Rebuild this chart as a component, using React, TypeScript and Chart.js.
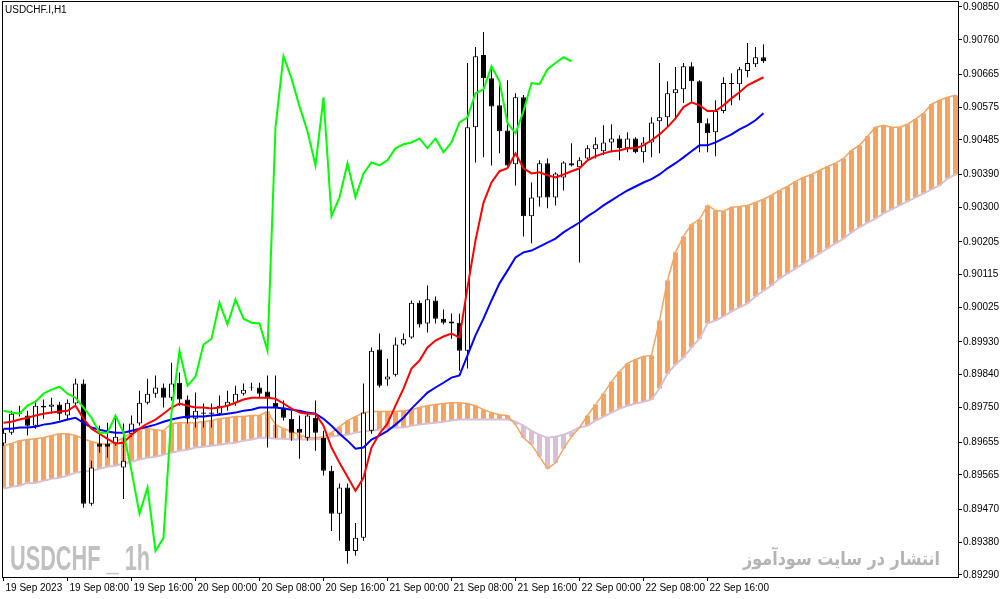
import React, { useEffect, useRef } from "react";
import { Chart, registerables } from "chart.js";

Chart.register(...registerables);

// ---- axis labels ----
const xTickIndex = [0, 8, 16, 24, 32, 40, 48, 56, 64, 72, 80, 88];
const xTickLabels = [
  "19 Sep 2023", "19 Sep 08:00", "19 Sep 16:00", "20 Sep 00:00", "20 Sep 08:00", "20 Sep 16:00",
  "21 Sep 00:00", "21 Sep 08:00", "21 Sep 16:00", "22 Sep 00:00", "22 Sep 08:00", "22 Sep 16:00",
];
const yTickLabels = [
  "0.90850", "0.90760", "0.90665", "0.90575", "0.90485", "0.90390", "0.90300", "0.90205", "0.90115",
  "0.90025", "0.89930", "0.89840", "0.89750", "0.89655", "0.89565", "0.89470", "0.89380", "0.89290",
];

// ---- candles (H1) ----
const candleOpen = [
  0.89651, 0.89681, 0.89733, 0.89728, 0.89700, 0.89750, 0.89752, 0.89758, 0.89728, 0.89761,
  0.89816, 0.89486, 0.89651, 0.89651, 0.89651, 0.89585, 0.89678, 0.89706, 0.89763, 0.89788,
  0.89805, 0.89777, 0.89818, 0.89772, 0.89719, 0.89733, 0.89736, 0.89733, 0.89755, 0.89763,
  0.89788, 0.89805, 0.89805, 0.89794, 0.89763, 0.89750, 0.89719, 0.89692, 0.89667, 0.89722,
  0.89667, 0.89576, 0.89458, 0.89530, 0.89356, 0.89392, 0.89686, 0.89909, 0.89827, 0.89840,
  0.89923, 0.89942, 0.90038, 0.89981, 0.90044, 0.89994, 0.89986, 0.89983, 0.89906, 0.90520,
  0.90718, 0.90654, 0.90580, 0.90511, 0.90418, 0.90602, 0.90275, 0.90327, 0.90421, 0.90327,
  0.90382, 0.90421, 0.90410, 0.90434, 0.90459, 0.90454, 0.90478, 0.90489, 0.90462, 0.90489,
  0.90451, 0.90478, 0.90536, 0.90547, 0.90613, 0.90624, 0.90687, 0.90646, 0.90531, 0.90506,
  0.90564, 0.90641, 0.90638, 0.90674, 0.90693, 0.90712,
];
const candleHigh = [
  0.89692, 0.89741, 0.89755, 0.89741, 0.89769, 0.89772, 0.89777, 0.89766, 0.89772, 0.89829,
  0.89827, 0.89604, 0.89700, 0.89708, 0.89722, 0.89706, 0.89728, 0.89796, 0.89829, 0.89838,
  0.89816, 0.89873, 0.89846, 0.89783, 0.89791, 0.89761, 0.89761, 0.89783, 0.89796, 0.89810,
  0.89816, 0.89818, 0.89818, 0.89838, 0.89838, 0.89769, 0.89741, 0.89728, 0.89733, 0.89769,
  0.89686, 0.89590, 0.89541, 0.89541, 0.89433, 0.89816, 0.89915, 0.89953, 0.89884, 0.89942,
  0.89953, 0.90044, 0.90044, 0.90085, 0.90055, 0.90019, 0.90008, 0.90008, 0.90696, 0.90740,
  0.90781, 0.90685, 0.90635, 0.90649, 0.90613, 0.90608, 0.90368, 0.90429, 0.90434, 0.90396,
  0.90426, 0.90476, 0.90437, 0.90470, 0.90492, 0.90525, 0.90528, 0.90498, 0.90506, 0.90492,
  0.90492, 0.90547, 0.90696, 0.90646, 0.90685, 0.90696, 0.90698, 0.90649, 0.90544, 0.90594,
  0.90657, 0.90668, 0.90685, 0.90751, 0.90740, 0.90748,
];
const candleLow = [
  0.89645, 0.89675, 0.89725, 0.89673, 0.89692, 0.89719, 0.89733, 0.89714, 0.89714, 0.89755,
  0.89475, 0.89480, 0.89626, 0.89612, 0.89645, 0.89499, 0.89670, 0.89700, 0.89758, 0.89777,
  0.89750, 0.89769, 0.89755, 0.89706, 0.89695, 0.89695, 0.89695, 0.89728, 0.89741, 0.89755,
  0.89783, 0.89796, 0.89777, 0.89640, 0.89667, 0.89714, 0.89659, 0.89609, 0.89659, 0.89631,
  0.89563, 0.89411, 0.89384, 0.89321, 0.89343, 0.89384, 0.89678, 0.89805, 0.89810, 0.89835,
  0.89920, 0.89939, 0.89970, 0.89956, 0.89981, 0.89978, 0.89939, 0.89851, 0.89857, 0.90423,
  0.90437, 0.90415, 0.90448, 0.90412, 0.90360, 0.90220, 0.90201, 0.90302, 0.90297, 0.90305,
  0.90346, 0.90412, 0.90148, 0.90429, 0.90434, 0.90443, 0.90451, 0.90429, 0.90451, 0.90448,
  0.90423, 0.90437, 0.90448, 0.90520, 0.90547, 0.90586, 0.90588, 0.90451, 0.90451, 0.90440,
  0.90558, 0.90580, 0.90594, 0.90657, 0.90685, 0.90696,
];
const candleClose = [
  0.89681, 0.89733, 0.89736, 0.89700, 0.89755, 0.89755, 0.89758, 0.89733, 0.89763, 0.89816,
  0.89486, 0.89585, 0.89642, 0.89642, 0.89670, 0.89604, 0.89706, 0.89763, 0.89788, 0.89805,
  0.89777, 0.89816, 0.89772, 0.89719, 0.89741, 0.89736, 0.89733, 0.89755, 0.89766, 0.89788,
  0.89799, 0.89807, 0.89788, 0.89777, 0.89750, 0.89722, 0.89681, 0.89681, 0.89728, 0.89681,
  0.89576, 0.89458, 0.89530, 0.89356, 0.89392, 0.89736, 0.89906, 0.89810, 0.89835, 0.89923,
  0.89939, 0.90038, 0.89978, 0.90047, 0.89994, 0.89983, 0.89981, 0.89906, 0.90520, 0.90715,
  0.90654, 0.90577, 0.90509, 0.90415, 0.90602, 0.90275, 0.90327, 0.90421, 0.90327, 0.90393,
  0.90423, 0.90415, 0.90429, 0.90462, 0.90473, 0.90478, 0.90489, 0.90462, 0.90489, 0.90451,
  0.90478, 0.90533, 0.90547, 0.90613, 0.90624, 0.90687, 0.90646, 0.90531, 0.90503, 0.90564,
  0.90641, 0.90638, 0.90679, 0.90696, 0.90712, 0.90701,
];

// ---- Ichimoku lines ----
const tenkan = [
  0.89708, 0.89711, 0.89717, 0.89722, 0.89728, 0.89733, 0.89736, 0.89739, 0.89741, 0.89755,
  0.89719, 0.89692, 0.89678, 0.89664, 0.89651, 0.89653, 0.89675, 0.89692, 0.89706, 0.89717,
  0.89733, 0.89750, 0.89761, 0.89755, 0.89750, 0.89750, 0.89747, 0.89750, 0.89755, 0.89763,
  0.89772, 0.89777, 0.89777, 0.89777, 0.89774, 0.89761, 0.89747, 0.89736, 0.89733, 0.89733,
  0.89700, 0.89640, 0.89598, 0.89560, 0.89521, 0.89557, 0.89640, 0.89678, 0.89706, 0.89755,
  0.89802, 0.89857, 0.89879, 0.89915, 0.89934, 0.89945, 0.89953, 0.89942, 0.90080, 0.90209,
  0.90313, 0.90368, 0.90399, 0.90407, 0.90448, 0.90407, 0.90393, 0.90396, 0.90388, 0.90382,
  0.90390, 0.90399, 0.90407, 0.90429, 0.90440, 0.90448, 0.90454, 0.90456, 0.90462, 0.90462,
  0.90470, 0.90484, 0.90500, 0.90520, 0.90544, 0.90575, 0.90588, 0.90580, 0.90564, 0.90564,
  0.90580, 0.90599, 0.90616, 0.90635, 0.90646, 0.90657,
];
const kijun = [
  0.89692, 0.89692, 0.89695, 0.89695, 0.89697, 0.89703, 0.89706, 0.89711, 0.89717, 0.89722,
  0.89708, 0.89695, 0.89689, 0.89684, 0.89681, 0.89681, 0.89686, 0.89692, 0.89697, 0.89703,
  0.89711, 0.89717, 0.89722, 0.89725, 0.89725, 0.89725, 0.89728, 0.89730, 0.89733, 0.89736,
  0.89741, 0.89744, 0.89750, 0.89750, 0.89750, 0.89747, 0.89744, 0.89741, 0.89736, 0.89733,
  0.89719, 0.89700, 0.89678, 0.89659, 0.89637, 0.89640, 0.89662, 0.89673, 0.89686, 0.89703,
  0.89722, 0.89747, 0.89769, 0.89791, 0.89805, 0.89818, 0.89832, 0.89838, 0.89893, 0.89948,
  0.89994, 0.90044, 0.90091, 0.90126, 0.90162, 0.90176, 0.90181, 0.90192, 0.90203, 0.90214,
  0.90231, 0.90245, 0.90258, 0.90275, 0.90289, 0.90305, 0.90319, 0.90333, 0.90346, 0.90357,
  0.90368, 0.90377, 0.90390, 0.90407, 0.90421, 0.90437, 0.90454, 0.90470, 0.90470, 0.90478,
  0.90489, 0.90500, 0.90514, 0.90525, 0.90539, 0.90558,
];
const chikou = [
  0.89741, 0.89736, 0.89733, 0.89755, 0.89766, 0.89788, 0.89799, 0.89807, 0.89788, 0.89777,
  0.89750, 0.89722, 0.89681, 0.89681, 0.89728, 0.89681, 0.89576, 0.89458, 0.89530, 0.89356,
  0.89392, 0.89736, 0.89906, 0.89810, 0.89835, 0.89923, 0.89939, 0.90038, 0.89978, 0.90047,
  0.89994, 0.89983, 0.89981, 0.89906, 0.90520, 0.90715, 0.90654, 0.90577, 0.90509, 0.90415,
  0.90602, 0.90275, 0.90327, 0.90421, 0.90327, 0.90393, 0.90423, 0.90415, 0.90429, 0.90462,
  0.90473, 0.90478, 0.90489, 0.90462, 0.90489, 0.90451, 0.90478, 0.90533, 0.90547, 0.90613,
  0.90624, 0.90687, 0.90646, 0.90531, 0.90503, 0.90564, 0.90641, 0.90638, 0.90679, 0.90696,
  0.90712, 0.90701,
];
const senkouA = [
  0.89645, 0.89651, 0.89659, 0.89662, 0.89664, 0.89667, 0.89673, 0.89678, 0.89678, 0.89673,
  0.89664, 0.89656, 0.89651, 0.89648, 0.89656, 0.89667, 0.89681, 0.89692, 0.89692, 0.89689,
  0.89686, 0.89706, 0.89708, 0.89708, 0.89708, 0.89711, 0.89714, 0.89719, 0.89722, 0.89725,
  0.89725, 0.89728, 0.89728, 0.89739, 0.89703, 0.89692, 0.89684, 0.89675, 0.89667, 0.89667,
  0.89670, 0.89681, 0.89697, 0.89714, 0.89725, 0.89736, 0.89739, 0.89739, 0.89739, 0.89739,
  0.89741, 0.89744, 0.89750, 0.89755, 0.89758, 0.89761, 0.89763, 0.89763, 0.89761, 0.89755,
  0.89744, 0.89736, 0.89730, 0.89728, 0.89703, 0.89667, 0.89648, 0.89615, 0.89582, 0.89598,
  0.89637, 0.89670, 0.89695, 0.89728, 0.89758, 0.89788, 0.89821, 0.89849, 0.89871, 0.89882,
  0.89890, 0.89893, 0.89989, 0.90099, 0.90176, 0.90220, 0.90253, 0.90267, 0.90305, 0.90291,
  0.90289, 0.90300, 0.90302, 0.90305, 0.90313, 0.90322, 0.90333, 0.90346, 0.90357, 0.90371,
  0.90382, 0.90390, 0.90401, 0.90412, 0.90421, 0.90434, 0.90456, 0.90470, 0.90495, 0.90520,
  0.90525, 0.90520, 0.90520, 0.90528, 0.90542, 0.90558, 0.90583, 0.90594, 0.90602, 0.90608,
];
const senkouB = [
  0.89527, 0.89532, 0.89535, 0.89543, 0.89543, 0.89549, 0.89554, 0.89557, 0.89563, 0.89571,
  0.89574, 0.89576, 0.89582, 0.89587, 0.89590, 0.89596, 0.89601, 0.89607, 0.89612, 0.89615,
  0.89620, 0.89626, 0.89631, 0.89634, 0.89640, 0.89642, 0.89645, 0.89648, 0.89651, 0.89653,
  0.89659, 0.89662, 0.89667, 0.89667, 0.89664, 0.89664, 0.89662, 0.89662, 0.89662, 0.89662,
  0.89664, 0.89670, 0.89673, 0.89675, 0.89681, 0.89684, 0.89686, 0.89689, 0.89692, 0.89695,
  0.89695, 0.89700, 0.89703, 0.89706, 0.89708, 0.89711, 0.89714, 0.89717, 0.89717, 0.89717,
  0.89717, 0.89717, 0.89717, 0.89717, 0.89711, 0.89700, 0.89686, 0.89675, 0.89667, 0.89670,
  0.89675, 0.89684, 0.89695, 0.89700, 0.89714, 0.89725, 0.89736, 0.89747, 0.89755, 0.89761,
  0.89766, 0.89772, 0.89802, 0.89843, 0.89868, 0.89887, 0.89915, 0.89939, 0.89981, 0.89989,
  0.90000, 0.90014, 0.90025, 0.90036, 0.90055, 0.90071, 0.90085, 0.90104, 0.90118, 0.90132,
  0.90146, 0.90159, 0.90173, 0.90187, 0.90201, 0.90214, 0.90231, 0.90245, 0.90258, 0.90269,
  0.90283, 0.90294, 0.90305, 0.90316, 0.90327, 0.90338, 0.90349, 0.90360, 0.90379, 0.90390,
];

const AXIS_FONT = { family: '"Liberation Sans", Arial, sans-serif', size: 10 };

export default function App() {
  const ref = useRef<HTMLCanvasElement>(null);

  useEffect(() => {
    document.body.style.margin = "0";
    const canvas = ref.current;
    if (!canvas) return;

    const pts = (arr: number[]) => arr.map((v, i) => ({ x: i, y: v }));
    const wicks = candleLow.map((l, i) => ({ x: i, y: [l, candleHigh[i]] }));
    const bodies = candleOpen.map((o, i) => ({ x: i, y: [o, candleClose[i]] }));
    const bodyColors = candleOpen.map((o, i) => (candleClose[i] >= o ? "#FFFFFF" : "#000000"));
    const cloud = senkouA.map((a, i) => ({ x: i, y: [Math.min(a, senkouB[i]), Math.max(a, senkouB[i])] }));
    const cloudColors = senkouA.map((a, i) => (a >= senkouB[i] ? "#F4A460" : "#D8BFD8"));

    const decor = {
      id: "decor",
      beforeDatasetsDraw(chart: any) {
        const ctx = chart.ctx as CanvasRenderingContext2D;
        ctx.save();
        ctx.fillStyle = "#C0C0C0";
        ctx.font = 'bold 35px "Liberation Sans", Arial, sans-serif';
        ctx.textBaseline = "alphabetic";
        const t = "USDCHF _ 1h";
        const w = ctx.measureText(t).width;
        ctx.translate(10, 570);
        ctx.scale(140 / w, 1);
        ctx.fillText(t, 0, 0);
        ctx.restore();

        ctx.save();
        ctx.fillStyle = "#B4B4B4";
        ctx.font = 'bold 19px "DejaVu Sans", sans-serif';
        ctx.textBaseline = "alphabetic";
        const fa = "انتشار در سایت سودآموز";
        const wf = ctx.measureText(fa).width;
        ctx.translate(743, 565);
        ctx.scale(197 / wf, 1);
        ctx.fillText(fa, 0, 0);
        ctx.restore();
      },
      afterDraw(chart: any) {
        const ctx = chart.ctx as CanvasRenderingContext2D;
        const a = chart.chartArea;
        ctx.save();
        ctx.strokeStyle = "#000000";
        ctx.lineWidth = 1;
        ctx.strokeRect(Math.round(a.left) - 0.5, Math.round(a.top) - 0.5, Math.round(a.right - a.left) + 1, Math.round(a.bottom - a.top) + 1);
        ctx.fillStyle = "#000000";
        ctx.font = '10px "Liberation Sans", Arial, sans-serif';
        ctx.textBaseline = "top";
        ctx.fillText("USDCHF.I,H1", 5, 5);
        ctx.restore();
      },
    };

    const xMin = -0.0625;
    const xMax = xMin + 955 / 8;

    const chart = new Chart(canvas, {
      type: "bar",
      data: {
        datasets: [
          { type: "line", label: "Chikou", data: pts(chikou), borderColor: "#00FF00", borderWidth: 2, pointRadius: 0, tension: 0, order: 0 } as any,
          { type: "line", label: "Tenkan", data: pts(tenkan), borderColor: "#FF0000", borderWidth: 2, pointRadius: 0, tension: 0, order: 1 } as any,
          { type: "line", label: "Kijun", data: pts(kijun), borderColor: "#0000FF", borderWidth: 2, pointRadius: 0, tension: 0, order: 2 } as any,
          {
            type: "bar", label: "Body", data: bodies, backgroundColor: bodyColors, borderColor: "#000000",
            borderWidth: 1, borderSkipped: false, barThickness: 5, grouped: false, inflateAmount: 0, order: 3,
          } as any,
          {
            type: "bar", label: "Wick", data: wicks, backgroundColor: "#000000", borderWidth: 0,
            barThickness: 1, grouped: false, inflateAmount: 0, order: 4,
          } as any,
          { type: "line", label: "Senkou A", data: pts(senkouA), borderColor: "#F4A460", borderWidth: 1.5, pointRadius: 0, tension: 0, order: 5 } as any,
          { type: "line", label: "Senkou B", data: pts(senkouB), borderColor: "#D8BFD8", borderWidth: 2, pointRadius: 0, tension: 0, order: 6 } as any,
          {
            type: "bar", label: "Cloud", data: cloud, backgroundColor: cloudColors, borderWidth: 0,
            barThickness: 5, grouped: false, inflateAmount: 0, order: 7,
          } as any,
        ],
      },
      options: {
        responsive: false,
        animation: false,
        devicePixelRatio: 1,
        events: [],
        layout: { padding: { left: 3, top: 2, right: 0, bottom: 0 } },
        plugins: { legend: { display: false }, tooltip: { enabled: false }, title: { display: false } },
        scales: {
          x: {
            type: "linear",
            position: "bottom",
            min: xMin,
            max: xMax,
            bounds: "data",
            offset: false,
            grid: { display: true, drawOnChartArea: false, drawTicks: true, tickLength: 4, color: "#000000", offset: false },
            border: { display: true, color: "#000000", width: 1 },
            ticks: {
              autoSkip: false,
              maxRotation: 0,
              minRotation: 0,
              color: "#000000",
              font: AXIS_FONT,
              padding: 1,
              labelOffset: 2,
              align: "start",
              callback: (v: any) => {
                const k = xTickIndex.indexOf(Number(v));
                return k >= 0 ? xTickLabels[k] : null;
              },
            },
            afterBuildTicks: (s: any) => {
              s.ticks = xTickIndex.map((v) => ({ value: v }));
            },
            afterFit: (s: any) => {
              s.height = 22;
              s.paddingLeft = 0;
              s.paddingRight = 0;
            },
          } as any,
          y: {
            type: "linear",
            position: "right",
            min: 0.892845,
            max: 0.908637,
            bounds: "data",
            beginAtZero: false,
            grid: { display: true, drawOnChartArea: false, drawTicks: true, tickLength: 4, color: "#000000" },
            border: { display: true, color: "#000000", width: 1 },
            ticks: {
              color: "#000000",
              font: AXIS_FONT,
              padding: 1,
              callback: (v: any) => {
                const k = yTickLabels.findIndex((t) => Math.abs(parseFloat(t) - Number(v)) < 1e-7);
                return k >= 0 ? yTickLabels[k] : null;
              },
            },
            afterBuildTicks: (s: any) => {
              s.ticks = yTickLabels.map((t) => ({ value: parseFloat(t) }));
            },
            afterFit: (s: any) => {
              s.width = 46;
              s.paddingTop = 0;
              s.paddingBottom = 0;
            },
          } as any,
        },
      },
      plugins: [decor],
    });

    return () => chart.destroy();
  }, []);

  return (
    <div style={{ width: 1004, height: 599, background: "#FFFFFF" }}>
      <canvas ref={ref} width={1004} height={599} style={{ display: "block" }} />
    </div>
  );
}
